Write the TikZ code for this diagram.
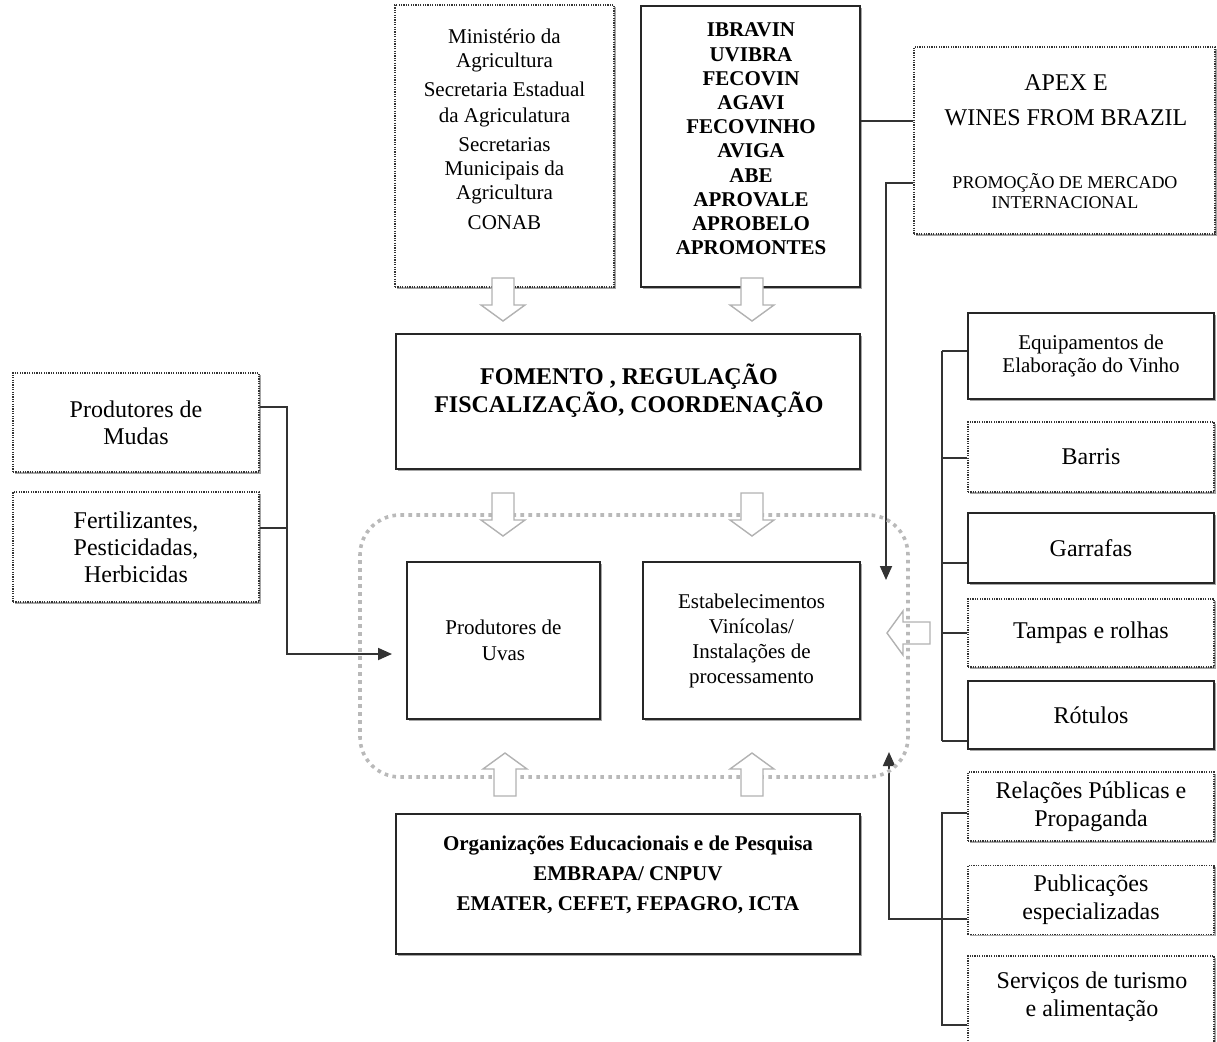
\documentclass[tikz,border=0pt]{standalone}
\usepackage{fontspec}
\setmainfont{Liberation Serif}
\usetikzlibrary{arrows.meta,shadows}

\tikzset{
  box/.style={fill=white, inner sep=0pt, align=center,
    drop shadow={shadow xshift=0.9pt, shadow yshift=-0.9pt, fill=gray, opacity=0.7}},
  solidbox/.style={box, draw=black!85, line width=0.9pt},
  dotbox/.style={box, draw=black!80, line width=0.6pt, dash pattern=on 0.6pt off 0.6pt},
  txt/.style={align=center, inner sep=0pt},
  conn/.style={draw=black!80, line width=0.9pt},
  hollowarrow/.pic={
    \draw[gray!60, fill=white, line width=0.7pt] (-11,0) -- (-11,27) -- (-22,27) -- (0,43)
      -- (22,27) -- (11,27) -- (11,0) -- cycle;
  }
}

\begin{document}
\begin{tikzpicture}[x=0.5pt, y=-0.5pt, >={Triangle[length=7pt,width=6pt]}]
  \useasboundingbox (0,0) rectangle (1217,1041);

  % governo e associacoes
  \node[dotbox, minimum width=109.5pt, minimum height=141pt] (gov) at (504.5,146) {};
  \node[txt, font=\fontsize{10.5}{12}\selectfont] (govTxt) at (504.5,129)
    {Ministério da\\Agricultura\\[2.5pt]Secretaria Estadual\\[1pt]da Agriculatura\\[2.5pt]Secretarias\\Municipais da\\Agricultura\\[3pt]CONAB};
  \node[solidbox, minimum width=109.5pt, minimum height=140.5pt] (assoc) at (750.5,146.5) {};
  \node[txt, font=\bfseries\fontsize{10.5}{12.1}\selectfont] (assocTxt) at (751,139)
    {IBRAVIN\\UVIBRA\\FECOVIN\\AGAVI\\FECOVINHO\\AVIGA\\ABE\\APROVALE\\APROBELO\\APROMONTES};
  \node[dotbox, minimum width=150.5pt, minimum height=93.5pt] (apex) at (1064.5,140.5) {};
  \node[txt, font=\fontsize{12}{17.5}\selectfont] (apexTxt) at (1066,100) {APEX E\\WINES FROM BRAZIL};
  \node[txt, font=\fontsize{9}{10}\selectfont] (promoTxt) at (1065,191) {PROMOÇÃO DE MERCADO\\INTERNACIONAL};

  \node[solidbox, minimum width=232pt, minimum height=67.5pt] (fomento) at (628,401.5) {};
  \node[txt, font=\bfseries\fontsize{12}{14}\selectfont] (fomentoTxt) at (629,391)
    {FOMENTO , REGULAÇÃO\\FISCALIZAÇÃO, COORDENAÇÃO};

  % nucleo
  \node[solidbox, minimum width=96.5pt, minimum height=78.5pt, font=\fontsize{10.5}{13}\selectfont]
    (uvas) at (503.5,640.5) {Produtores de\\Uvas};
  \node[solidbox, minimum width=108.5pt, minimum height=78.5pt, font=\fontsize{10.5}{12.5}\selectfont]
    (vinicolas) at (751.5,640.5) {Estabelecimentos\\Vinícolas/\\Instalações de\\processamento};

  \node[solidbox, minimum width=232pt, minimum height=70pt] (edu) at (628,884) {};
  \node[txt, font=\bfseries\fontsize{10.5}{15}\selectfont] (eduTxt) at (628,875)
    {Organizações Educacionais e de Pesquisa\\EMBRAPA/ CNPUV\\EMATER, CEFET, FEPAGRO, ICTA};

  % insumos
  \node[dotbox, minimum width=123pt, minimum height=49.5pt, font=\fontsize{12}{13.5}\selectfont]
    (mudas) at (136,422.5) {Produtores de\\Mudas};
  \node[dotbox, minimum width=123pt, minimum height=55pt, font=\fontsize{12}{13.5}\selectfont]
    (insumos) at (136,547) {Fertilizantes,\\Pesticidadas,\\Herbicidas};

  % fornecedores
  \node[solidbox, minimum width=123pt, minimum height=43pt, font=\fontsize{10.5}{11.5}\selectfont]
    (equip) at (1091,356) {Equipamentos de\\Elaboração do Vinho};
  \foreach \n/\y/\h/\t in {barris/457/35/Barris, tampas/633/34/Tampas e rolhas}
    \node[dotbox, minimum width=123pt, minimum height=\h pt, font=\fontsize{12}{14}\selectfont] (\n) at (1091,\y) {\t};
  \foreach \n/\y/\h/\t in {garrafas/548/35/Garrafas, rotulos/715/34/Rótulos}
    \node[solidbox, minimum width=123pt, minimum height=\h pt, font=\fontsize{12}{14}\selectfont] (\n) at (1091,\y) {\t};

  % marketing
  \foreach \n/\y/\t in {relpub/806.5/{Relações Públicas e\\Propaganda}, publi/900/{Publicações\\especializadas}}
    \node[dotbox, minimum width=123pt, minimum height=34.5pt, font=\fontsize{12}{14}\selectfont] (\n) at (1091,\y) {\t};
  \node[dotbox, minimum width=123pt, minimum height=47pt] (turismo) at (1091,1003) {};
  \node[txt, font=\fontsize{12}{14}\selectfont] (turismoTxt) at (1092,997) {Serviços de turismo\\e alimentação};

  % ligacoes
  \coordinate (apexIn) at (886,580);
  \draw[conn] (assoc.east |- 0,121) -- (apex.west |- 0,121);
  \draw[conn, ->] (apex.west |- 0,183) -| (apexIn);

  \coordinate (mudasJoin) at (287,528);
  \coordinate (uvasIn) at (392,654);
  \draw[conn] (mudas.east |- 0,407) -| (mudasJoin);
  \draw[conn] (insumos.east |- 0,528) -- (mudasJoin);
  \draw[conn, ->] (mudasJoin) |- (uvasIn);

  \coordinate (suppTop) at (942,351);
  \coordinate (suppBot) at (942,741);
  \draw[conn] (suppTop) -- (suppBot);
  \foreach \n/\y in {equip/351, barris/458, garrafas/563, tampas/633, rotulos/741}
    \draw[conn] (suppTop |- 0,\y) -- (\n.west |- 0,\y);

  \coordinate (mktTop) at (942,813);
  \coordinate (mktBot) at (942,1025);
  \coordinate (mktIn) at (889,752);
  \draw[conn] (relpub.west |- mktTop) -- (mktTop) -- (mktBot) -- (turismo.west |- mktBot);
  \draw[conn, ->] (publi.west |- 0,919) -| (mktIn);

  % setas largas
  \pic[rotate=-90] at (930,633) {hollowarrow};
  \node[draw=gray!55, line width=1.8pt, dash pattern=on 1.8pt off 2.2pt, rounded corners=20pt,
    minimum width=274pt, minimum height=131pt] (cluster) at (634,646) {};
  \foreach \x in {503,752} {
    \pic at (\x,278) {hollowarrow};
    \pic at (\x,493) {hollowarrow};
  }
  \foreach \x in {505,752}
    \pic[rotate=180] at (\x,796) {hollowarrow};
\end{tikzpicture}
\end{document}
